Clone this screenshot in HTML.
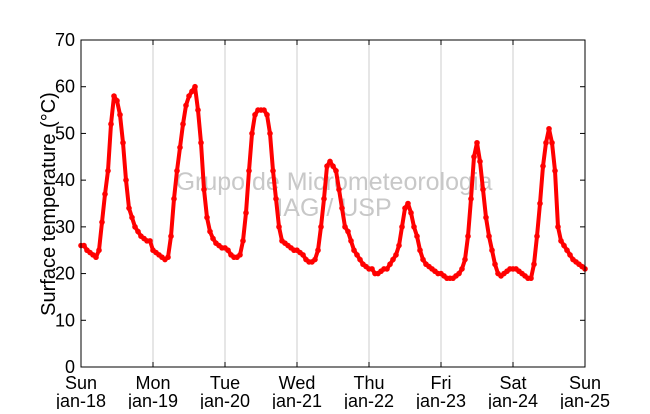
<!DOCTYPE html>
<html><head><meta charset="utf-8"><style>
body{margin:0;background:#fff;width:650px;height:409px;overflow:hidden;font-family:"Liberation Sans",sans-serif}
</style></head><body>
<svg id="c" width="650" height="409" xmlns="http://www.w3.org/2000/svg"></svg>
<script>
const dayLabels1=["Sun","Mon","Tue","Wed","Thu","Fri","Sat","Sun"];
const dayLabels2=["jan-18","jan-19","jan-20","jan-21","jan-22","jan-23","jan-24","jan-25"];
const yTicks=[0,10,20,30,40,50,60,70];
// hourly surface temperature (°C), starting Sun 00h
const temps=[
26,26,25,24.5,24,23.5,25,31,37,42,52,58,57,54,48,40,34,32,30,29,28,27.5,27,27,
25,24.5,24,23.5,23,23.5,28,36,42,47,52,56,58,59,60,55,48,38,32,29,27.5,26.5,26,25.5,
25.5,25,24,23.5,23.5,24,27,33,42,50,54,55,55,55,54,50,42,36,30,27,26.5,26,25.5,25,
25,24.5,24,23,22.5,22.5,23,25,30,36,43,44,43,42,38,34,30,29,27,25,24,23,22,21.5,
21,21,20,20,20.5,21,21,22,23,24,26,30,34,35,33,30,28,25,23,22,21.5,21,20.5,20,
20,19.5,19,19,19,19.5,20,21,23,28,36,45,48,44,38,32,28,25,22,20,19.5,20,20.5,21,
21,21,20.5,20,19.5,19,19,22,28,35,43,48,51,48,42,30,27,26,25,24,23,22.5,22,21.5,21];
const X0=81,X1=585,Y0=367,Y1=40;
const xs=h=>X0+(X1-X0)*h/168, ys=v=>Y0-(Y0-Y1)*v/70;
const svg=document.getElementById('c'),NS="http://www.w3.org/2000/svg";
function mk(t,a,p){const e=document.createElementNS(NS,t);for(const k in a)e.setAttribute(k,a[k]);(p||svg).appendChild(e);return e;}
for(let d=1;d<7;d++){const g=mk('line',{x1:xs(d*24),x2:xs(d*24),y1:Y1,y2:Y0,stroke:'#ccc','stroke-width':1});
}
const w1=mk('text',{x:334,y:190,'text-anchor':'middle','font-size':25,fill:'#c8c8c8'});w1.textContent="Grupo de Micrometeorologia";

const w2=mk('text',{x:334,y:216,'text-anchor':'middle','font-size':25,fill:'#c8c8c8'});w2.textContent="IAG / USP";

const pts=temps.map((v,i)=>xs(i)+','+ys(v)).join(' ');
const pl=mk('polyline',{points:pts,fill:'none',stroke:'#f00','stroke-width':4,'stroke-linejoin':'round'});

temps.forEach((v,i)=>{const c=mk('circle',{cx:xs(i),cy:ys(v),r:2.8,fill:'#f00'});
});
const fr=mk('rect',{x:X0,y:Y1,width:X1-X0,height:Y0-Y1,fill:'none',stroke:'#000','stroke-width':1});

yTicks.forEach(v=>{const y=ys(v);
mk('line',{x1:X0,x2:X0+5,y1:y,y2:y,stroke:'#000'});mk('line',{x1:X1-5,x2:X1,y1:y,y2:y,stroke:'#000'});
const t=mk('text',{x:X0-6,y:y+6,'text-anchor':'end','font-size':18});t.textContent=v;
});
dayLabels1.forEach((s,d)=>{const x=xs(d*24);
mk('line',{x1:x,x2:x,y1:Y0,y2:Y0-5,stroke:'#000'});mk('line',{x1:x,x2:x,y1:Y1,y2:Y1+5,stroke:'#000'});
const t=mk('text',{x:x,y:389,'text-anchor':'middle','font-size':18});t.textContent=s;

const t2=mk('text',{x:x,y:407,'text-anchor':'middle','font-size':18});t2.textContent=dayLabels2[d];
});
const yt=mk('text',{x:0,y:0,'text-anchor':'middle','font-size':20,transform:'translate(55,204) rotate(-90)'});
yt.textContent="Surface temperature (°C)";

</script>
</body></html>
